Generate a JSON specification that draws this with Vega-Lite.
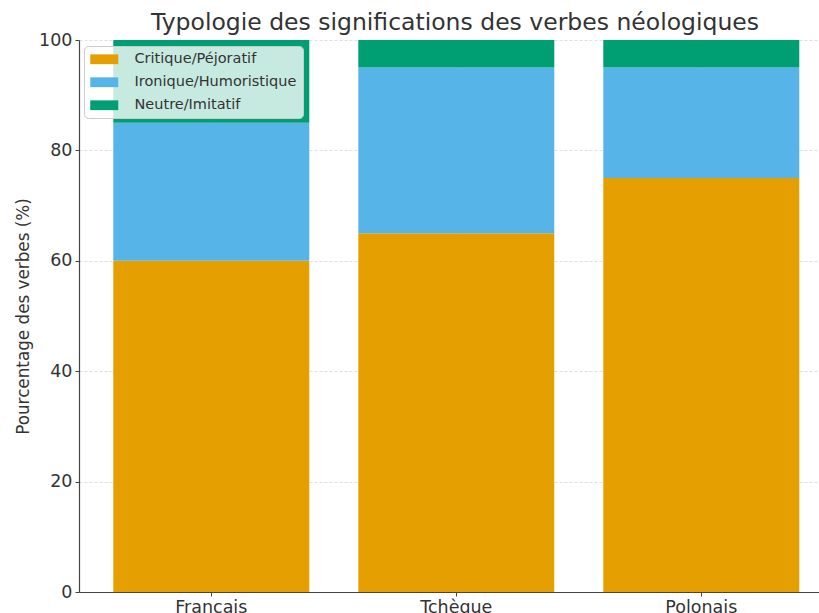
{
  "$schema": "https://vega.github.io/schema/vega-lite/v6.json",
  "width": 740,
  "height": 552,
  "autosize": {"type": "none"},
  "padding": {"left": 79, "top": 40, "right": 0, "bottom": 21},
  "background": "white",
  "title": {
    "text": "Typologie des significations des verbes néologiques",
    "font": "DejaVu Sans",
    "fontSize": 23.5,
    "fontWeight": "normal",
    "color": "#333333",
    "anchor": "middle",
    "frame": "group",
    "dx": 6,
    "offset": -3
  },
  "data": {
    "values": [
      {"langue": "Français", "type": "Critique/Péjoratif", "pct": 60},
      {"langue": "Français", "type": "Ironique/Humoristique", "pct": 25},
      {"langue": "Français", "type": "Neutre/Imitatif", "pct": 15},
      {"langue": "Tchèque", "type": "Critique/Péjoratif", "pct": 65},
      {"langue": "Tchèque", "type": "Ironique/Humoristique", "pct": 30},
      {"langue": "Tchèque", "type": "Neutre/Imitatif", "pct": 5},
      {"langue": "Polonais", "type": "Critique/Péjoratif", "pct": 75},
      {"langue": "Polonais", "type": "Ironique/Humoristique", "pct": 20},
      {"langue": "Polonais", "type": "Neutre/Imitatif", "pct": 5}
    ]
  },
  "mark": {"type": "bar"},
  "encoding": {
    "x": {
      "field": "langue",
      "type": "nominal",
      "sort": ["Français", "Tchèque", "Polonais"],
      "scale": {"paddingInner": 0.2, "paddingOuter": 0.1102, "align": 0.635},
      "axis": {
        "title": null,
        "labelAngle": 0,
        "grid": true,
        "bandPosition": 0.5,
        "tickBand": "center",
        "labelPadding": 2
      }
    },
    "y": {
      "field": "pct",
      "type": "quantitative",
      "stack": "zero",
      "scale": {"domain": [0, 100], "nice": false},
      "axis": {
        "title": "Pourcentage des verbes (%)",
        "values": [0, 20, 40, 60, 80, 100],
        "titlePadding": 6,
        "titleFontSize": 16.8
      }
    },
    "color": {
      "field": "type",
      "type": "nominal",
      "scale": {
        "domain": ["Critique/Péjoratif", "Ironique/Humoristique", "Neutre/Imitatif"],
        "range": ["#E69F00", "#56B4E9", "#009E73"]
      },
      "legend": {
        "title": null,
        "orient": "none",
        "legendX": 5,
        "legendY": 6,
        "fillColor": "rgba(255,255,255,0.78)",
        "strokeColor": "#cccccc",
        "cornerRadius": 4,
        "padding": 6,
        "symbolType": "M-2,-0.7H2V0.7H-2Z",
        "symbolSize": 196,
        "symbolStrokeWidth": 0,
        "symbolOpacity": 1,
        "symbolOffset": 7,
        "labelFont": "DejaVu Sans",
        "labelFontSize": 14.5,
        "labelColor": "#333333",
        "labelOffset": 23,
        "labelLimit": 400,
        "rowPadding": 8
      }
    },
    "order": {"field": "type", "type": "nominal", "sort": "ascending"}
  },
  "config": {
    "view": {"stroke": null},
    "font": "DejaVu Sans",
    "axis": {
      "zindex": 1,
      "labelFont": "DejaVu Sans",
      "labelFontSize": 17.5,
      "labelColor": "#333333",
      "titleFont": "DejaVu Sans",
      "titleFontSize": 17,
      "titleFontWeight": "normal",
      "titleColor": "#333333",
      "domainColor": "#444444",
      "domainWidth": 1.2,
      "tickColor": "#444444",
      "tickSize": 4,
      "labelPadding": 3,
      "gridColor": "#b0b0b0",
      "gridOpacity": 0.5,
      "gridDash": [3, 2],
      "gridWidth": 0.8
    }
  }
}
